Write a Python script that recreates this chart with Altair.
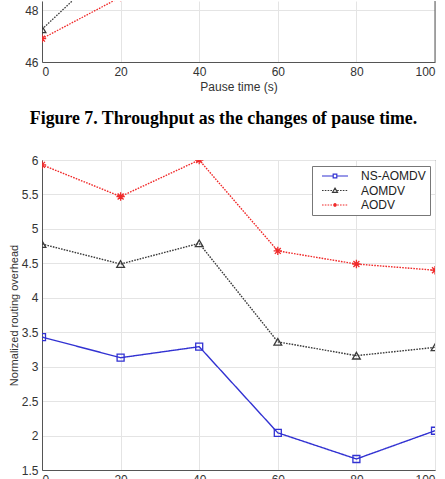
import altair as alt
import pandas as pd

# ---------------- data ----------------
pause_time = [0, 20, 40, 60, 80, 100]
series_names = ["NS-AOMDV", "AOMDV", "AODV"]
overhead_ns_aomdv = [3.43, 3.13, 3.29, 2.04, 1.66, 2.07]
overhead_aomdv = [4.78, 4.49, 4.79, 3.36, 3.16, 3.28]
overhead_aodv = [5.93, 5.47, 6.00, 4.68, 4.49, 4.40]

# Figure 7 (throughput) - only its lower part is visible
thr_series = ["AOMDV", "AODV"]
thr_pause_time = [0, 20]
thr_aomdv = [47.26, 50.1]
thr_aodv = [46.9, 48.5]

x_ticks = [0, 20, 40, 60, 80, 100]
y_ticks_main = [1.5, 2, 2.5, 3, 3.5, 4, 4.5, 5, 5.5, 6]
y_ticks_top = [46, 48]

caption_text = "Figure 7. Throughput as the changes of pause time."
x_title = "Pause time (s)"
y_title = "Normalized routing overhead"

# ---------------- styles ----------------
colors = ["#3232d2", "#3a3a3a", "#f02a2a"]
dashes = [[1, 0], [1.6, 1.2], [1.6, 1.2]]
asterisk = "M0,-1V1M-1,0H1M-0.71,-0.71L0.71,0.71M-0.71,0.71L0.71,-0.71"
marker_shapes = ["square", "triangle-up", asterisk]
marker_sizes = [49, 70, 49]


def seg(x0, x1, dash, gap):
    parts = []
    x = x0
    while x < x1 - 1e-9:
        e = min(x + dash, x1)
        parts.append(f"M{x:.2f},0H{e:.2f}")
        x = e + gap
    return "".join(parts)


solid_line = seg(-3.25, -0.5, 10, 0) + seg(0.5, 3.25, 10, 0)
dot_line = seg(-3.25, -0.55, 0.4, 0.3) + seg(0.55, 3.25, 0.4, 0.3)
legend_paths = [
    solid_line + "M-0.45,-0.45H0.45V0.45H-0.45Z",
    dot_line + "M0,-0.6L0.62,0.45L-0.62,0.45Z",
    dot_line + "M0,-0.45V0.45M-0.45,0H0.45M-0.32,-0.32L0.32,0.32M-0.32,0.32L0.32,-0.32",
]

AX = "#555555"
FONT = "Liberation Sans"

rows = []
for name, vals in zip(series_names, [overhead_ns_aomdv, overhead_aomdv, overhead_aodv]):
    for x, v in zip(pause_time, vals):
        rows.append({"pause": x, "value": v, "series": name})
df = pd.DataFrame(rows)

trows = []
for name, vals in zip(thr_series, [thr_aomdv, thr_aodv]):
    for x, v in zip(thr_pause_time, vals):
        trows.append({"pause": x, "value": v, "series": name})
dft = pd.DataFrame(trows)

color_scale = alt.Scale(domain=series_names, range=colors)
dash_scale = alt.Scale(domain=series_names, range=dashes)
shape_scale = alt.Scale(domain=series_names, range=marker_shapes)
size_scale = alt.Scale(domain=series_names, range=marker_sizes)

# ---------------- main chart ----------------
xm = alt.X("pause:Q", scale=alt.Scale(domain=[0, 100], nice=False),
           axis=alt.Axis(values=x_ticks, title=x_title, labelPadding=4, titlePadding=4))
ym = alt.Y("value:Q", scale=alt.Scale(domain=[1.5, 6], nice=False, zero=False),
           axis=alt.Axis(values=y_ticks_main, title=y_title, titleFontSize=11,
                         labelPadding=4, titlePadding=2, format="~g"))

lines = alt.Chart(df).mark_line(strokeWidth=1.4, clip=True).encode(
    x=xm, y=ym,
    color=alt.Color("series:N", scale=color_scale, legend=None),
    strokeDash=alt.StrokeDash("series:N", scale=dash_scale, legend=None),
)
points = alt.Chart(df).mark_point(filled=False, strokeWidth=1.3, opacity=1, clip=True).encode(
    x=xm, y=ym,
    color=alt.Color("series:N", scale=color_scale, legend=None),
    shape=alt.Shape("series:N", scale=shape_scale, legend=None),
    size=alt.Size("series:N", scale=size_scale, legend=None),
)

leg_def = alt.Legend(
    title=None, orient="none", legendX=270, legendY=6,
    fillColor="white", strokeColor="#777777", padding=4,
    symbolSize=64, symbolStrokeWidth=1.2, symbolOffset=13, labelOffset=20,
    labelFont=FONT, labelFontSize=12, labelColor="#222222", rowPadding=2.5,
    symbolOpacity=1, symbolFillColor="transparent",
)
legend_layer = alt.Chart(df).transform_calculate(leg="datum.series").mark_point(
    filled=False, opacity=0
).encode(
    x=xm, y=ym,
    color=alt.Color("leg:N", scale=alt.Scale(domain=series_names, range=colors), legend=leg_def),
    shape=alt.Shape("leg:N", scale=alt.Scale(domain=series_names, range=legend_paths), legend=leg_def),
)

main = alt.layer(lines, points, legend_layer).resolve_scale(
    color="independent", shape="independent"
).properties(
    width=393, height=310,
    title=alt.Title(caption_text, font="Liberation Serif", fontSize=17.8, fontWeight="bold",
                    color="black", anchor="middle", offset=26, dx=-15),
    view=alt.ViewBackground(stroke=AX, strokeWidth=1),
)

# ---------------- top (Figure 7 remainder) ----------------
xt = alt.X("pause:Q", scale=alt.Scale(domain=[0, 100], nice=False),
           axis=alt.Axis(values=x_ticks, title=x_title, labelPadding=4, titlePadding=4,
                         domain=True))
yt = alt.Y("value:Q", scale=alt.Scale(domain=[46, 48.35], nice=False, zero=False),
           axis=alt.Axis(values=y_ticks_top, title=None, labelPadding=4, domain=True))

t_lines = alt.Chart(dft).mark_line(strokeWidth=1.3, clip=True).encode(
    x=xt, y=yt,
    color=alt.Color("series:N", scale=color_scale, legend=None),
    strokeDash=alt.StrokeDash("series:N", scale=dash_scale, legend=None),
)
t_points = alt.Chart(dft).mark_point(filled=False, strokeWidth=1.3, opacity=1, clip=True).encode(
    x=xt, y=yt,
    color=alt.Color("series:N", scale=color_scale, legend=None),
    shape=alt.Shape("series:N", scale=shape_scale, legend=None),
    size=alt.Size("series:N", scale=size_scale, legend=None),
)
t_border = alt.Chart(pd.DataFrame({"pause": [x_ticks[-1]]})).mark_rule(
    color=AX, strokeWidth=1
).encode(x=xt)

top = alt.layer(t_lines, t_points, t_border).properties(
    width=393, height=61,
    view=alt.ViewBackground(stroke="transparent"),
)

chart = alt.vconcat(top, main, spacing=98, bounds="flush").properties(
    padding={"left": 7, "top": 0, "right": 0, "bottom": 0},
    background="white",
).configure_axis(
    labelFont=FONT, labelFontSize=12, labelColor="#333333",
    titleFont=FONT, titleFontSize=12, titleFontWeight="normal", titleColor="#333333",
    gridColor="#e4e4e4", gridWidth=1, domainColor=AX, domainWidth=1, tickSize=0,
)

chart.save("out.html", embed_options={"renderer": "svg", "actions": False})
